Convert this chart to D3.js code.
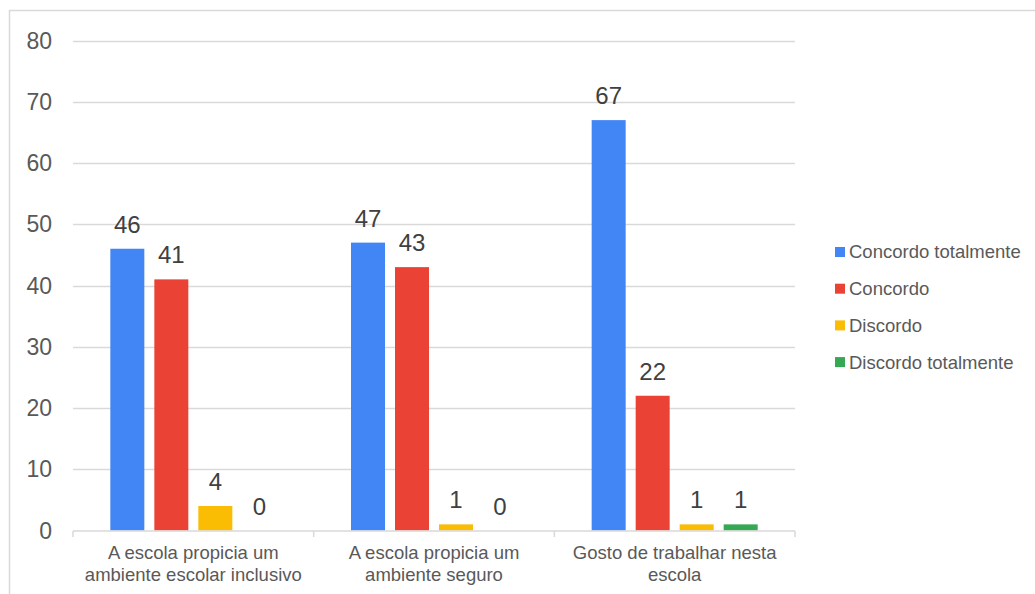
<!DOCTYPE html>
<html>
<head>
<meta charset="utf-8">
<script src="https://cdn.jsdelivr.net/npm/d3@7"></script>
<style>
  body { margin: 0; background: #fff; }
  svg { display: block; font-family: "Liberation Sans", Arial, sans-serif; }
</style>
</head>
<body>
<svg id="chart" width="1035" height="594"></svg>
<script>
const categories = [
  ["A escola propicia um", "ambiente escolar inclusivo"],
  ["A escola propicia um", "ambiente seguro"],
  ["Gosto de trabalhar nesta", "escola"]
];
const series = ["Concordo totalmente", "Concordo", "Discordo", "Discordo totalmente"];
const values = [
  [46, 47, 67],
  [41, 43, 22],
  [4, 1, 1],
  [0, 0, 1]
];
const colors = ["#4285F4", "#EA4335", "#FBBC04", "#34A853"];
const yTicks = [0, 10, 20, 30, 40, 50, 60, 70, 80];

const svg = d3.select("#chart");

// outer border
svg.append("rect")
  .attr("x", 9.5).attr("y", 10.5)
  .attr("width", 1040).attr("height", 600)
  .attr("fill", "none").attr("stroke", "#d9d9d9").attr("stroke-width", 1.5);

const plotL = 73, plotR = 795;
const y = d3.scaleLinear().domain([0, 80]).range([530.5, 40.5]);
const x0 = d3.scaleBand().domain(d3.range(categories.length)).range([plotL, plotR]).padding(0);
const innerW = 166;
const x1 = d3.scaleBand().domain(d3.range(series.length))
  .range([(x0.bandwidth() - innerW) / 2, (x0.bandwidth() + innerW) / 2])
  .paddingInner(10 / 44).paddingOuter(0);

// gridlines
svg.append("g").selectAll("line")
  .data(yTicks.filter(t => t > 0))
  .join("line")
  .attr("x1", plotL).attr("x2", plotR)
  .attr("y1", d => Math.round(y(d)) + 0.5).attr("y2", d => Math.round(y(d)) + 0.5)
  .attr("stroke", "#d9d9d9").attr("stroke-width", 1.5);

// y labels
svg.append("g").selectAll("text")
  .data(yTicks)
  .join("text")
  .attr("x", 52).attr("y", d => y(d))
  .attr("dy", "0.35em")
  .attr("text-anchor", "end")
  .attr("font-size", 23)
  .attr("fill", "#595959")
  .text(d => d);

// bars
const groups = svg.append("g").selectAll("g")
  .data(categories.map((c, i) => i))
  .join("g")
  .attr("transform", i => `translate(${x0(i)},0)`);

groups.selectAll("rect")
  .data(i => series.map((s, j) => ({ j, v: values[j][i] })))
  .join("rect")
  .attr("x", d => x1(d.j))
  .attr("width", x1.bandwidth())
  .attr("y", d => y(d.v))
  .attr("height", d => y(0) - y(d.v))
  .attr("fill", d => colors[d.j]);

groups.selectAll("text.val")
  .data(i => series.map((s, j) => ({ j, v: values[j][i] })))
  .join("text")
  .attr("class", "val")
  .attr("x", d => x1(d.j) + x1.bandwidth() / 2)
  .attr("y", d => y(d.v) - 16)
  .attr("text-anchor", "middle")
  .attr("font-size", 24)
  .attr("fill", "#404040")
  .text(d => d.v);

// x axis line & ticks
const axisY = 531;
svg.append("line")
  .attr("x1", plotL).attr("x2", plotR)
  .attr("y1", axisY).attr("y2", axisY)
  .attr("stroke", "#d9d9d9").attr("stroke-width", 1.5);
svg.append("g").selectAll("line")
  .data(d3.range(categories.length + 1))
  .join("line")
  .attr("x1", i => i < categories.length ? x0(i) : plotR)
  .attr("x2", i => i < categories.length ? x0(i) : plotR)
  .attr("y1", axisY).attr("y2", axisY + 6)
  .attr("stroke", "#d9d9d9").attr("stroke-width", 1.5);

// category labels
const catText = svg.append("g").selectAll("text")
  .data(categories)
  .join("text")
  .attr("x", (d, i) => x0(i) + x0.bandwidth() / 2)
  .attr("y", 559)
  .attr("text-anchor", "middle")
  .attr("font-size", 18.5)
  .attr("fill", "#595959");
catText.selectAll("tspan")
  .data(d => d)
  .join("tspan")
  .attr("x", function() { return this.parentNode.getAttribute("x"); })
  .attr("dy", (d, k) => k === 0 ? 0 : 21.5)
  .text(d => d);

// legend
const leg = svg.append("g").selectAll("g")
  .data(series)
  .join("g")
  .attr("transform", (d, i) => `translate(835,${252 + i * 36.7})`);
leg.append("rect")
  .attr("x", 0).attr("y", -5)
  .attr("width", 10).attr("height", 10)
  .attr("fill", (d, i) => colors[i]);
leg.append("text")
  .attr("x", 14).attr("y", 0)
  .attr("dy", "0.35em")
  .attr("font-size", 18.5)
  .attr("fill", "#595959")
  .text(d => d);
</script>
</body>
</html>
